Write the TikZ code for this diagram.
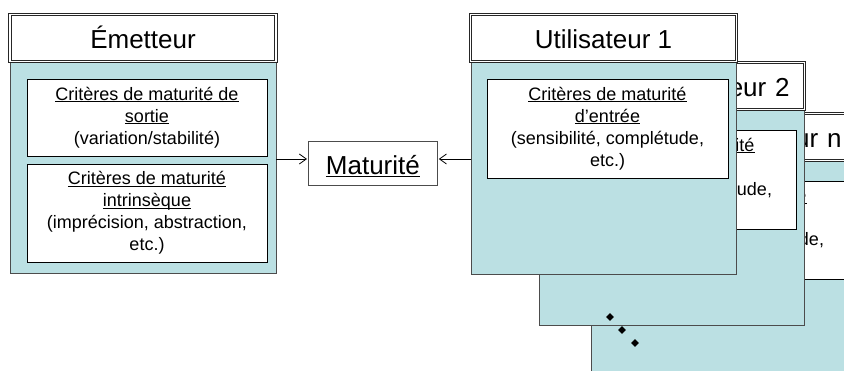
\documentclass[tikz,border=0pt]{standalone}
\usepackage{fontspec}
\setmainfont{Liberation Sans}
\usetikzlibrary{arrows.meta,positioning,shapes.geometric}
\definecolor{bodyteal}{RGB}{187,224,227}
\newcommand\ulined[1]{\underline{\raisebox{0pt}[\height][0pt]{#1}}}

\begin{document}
\begin{tikzpicture}[x=1pt,y=-1pt,>={Straight Barb[length=7pt,width=10pt]},
  titlebox/.style={draw=black!85,double=white,double distance=1.6pt,line width=0.8pt,
    fill=white,minimum width=266pt,minimum height=47pt,inner sep=0pt,outer sep=0pt,
    text height=22pt,text depth=0pt,font=\fontsize{26}{30}\selectfont},
  rtitle/.style={titlebox,text width=236pt,inner xsep=15pt,align=right},
  bodybox/.style={draw=black!70,line width=1pt,fill=bodyteal,minimum width=265pt,
    inner sep=0pt,outer sep=0pt},
  critbox/.style={draw=black,line width=0.9pt,fill=white,minimum width=241pt,
    inner sep=0pt,outer sep=0pt,align=center,font=\fontsize{18}{22}\selectfont},
  dotmark/.style={diamond,fill=black,inner sep=0pt,minimum size=8pt}]
\useasboundingbox (0,0) rectangle (844,371);
\clip (0,0) rectangle (844,371);

% utilisateur n (back)
\node[bodybox,anchor=north west,minimum height=220pt] (unBody) at (591,162) {};
\node[rtitle,above=1.5pt of unBody.north] (unTitle) {Utilisateur n};
\node[critbox,minimum height=98pt,below=19pt of unBody.north,xshift=4pt] (unIn)
  {\ulined{Critères de maturité}\\ \ulined{d’entrée}\\ (sensibilité, complétude,\\ etc.)};

% utilisateur 2
\node[bodybox,anchor=north west,minimum height=215pt] (utBody) at (539,111) {};
\node[rtitle,above=1.5pt of utBody.north] (utTitle) {Utilisateur 2};
\node[critbox,minimum height=99pt,below=19pt of utBody.north,xshift=4pt] (utIn)
  {\ulined{Critères de maturité}\\ \ulined{d’entrée}\\ (sensibilité, complétude,\\ etc.)};

% utilisateur 1 (front)
\node[bodybox,anchor=north west,minimum height=212pt] (uoBody) at (471,63) {};
\node[titlebox,above=1.5pt of uoBody.north] (uoTitle) {Utilisateur 1};
\node[critbox,minimum height=99pt,below=16pt of uoBody.north,xshift=4pt] (uoIn)
  {\ulined{Critères de maturité}\\ \ulined{d’entrée}\\ (sensibilité, complétude,\\ etc.)};

% emetteur
\node[bodybox,anchor=north west,minimum width=266pt,minimum height=211pt] (emBody) at (10,63) {};
\node[titlebox,above=1.5pt of emBody.north] (emTitle) {Émetteur};
\node[critbox,minimum width=240pt,minimum height=77pt,below=16pt of emBody.north,xshift=4pt] (emOut)
  {\ulined{Critères de maturité de}\\ \ulined{sortie}\\ (variation/stabilité)};
\node[critbox,minimum width=240pt,minimum height=98pt,below=8pt of emOut] (emIntr)
  {\ulined{Critères de maturité}\\ \ulined{intrinsèque}\\ (imprécision, abstraction,\\ etc.)};

% maturite
\node[draw=black!70,line width=0.8pt,anchor=north west,minimum width=129pt,minimum height=44pt,
  inner sep=0pt,text height=22pt,text depth=0pt,font=\fontsize{26}{30}\selectfont] (matNode)
  at (308,141) {\ulined{Maturité}};

\coordinate (arrowLevel) at (0,159);
\draw[->,line width=0.8pt,shorten >=1pt] (emBody.east |- arrowLevel) -- (matNode.west |- arrowLevel);
\draw[->,line width=0.8pt,shorten >=1pt] (uoBody.west |- arrowLevel) -- (matNode.east |- arrowLevel);

% points de suspension
\node[dotmark] (dotA) at (610,317) {};
\node[dotmark] (dotB) at (622,330) {};
\node[dotmark] (dotC) at (635,343) {};
\end{tikzpicture}
\end{document}
